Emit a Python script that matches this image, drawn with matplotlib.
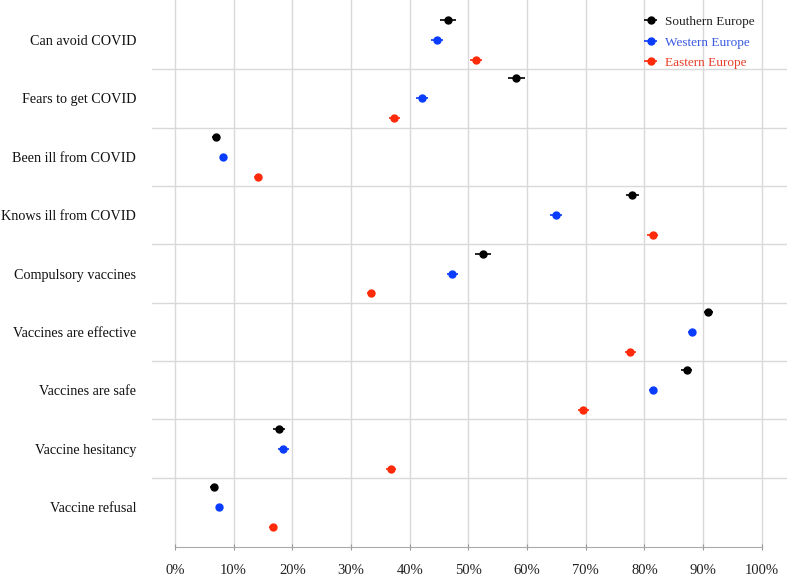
import matplotlib.pyplot as plt
import numpy as np
from matplotlib.ticker import PercentFormatter

categories = [
    "Can avoid COVID",
    "Fears to get COVID",
    "Been ill from COVID",
    "Knows ill from COVID",
    "Compulsory vaccines",
    "Vaccines are effective",
    "Vaccines are safe",
    "Vaccine hesitancy",
    "Vaccine refusal",
]

southern = [0.465, 0.582, 0.070, 0.779, 0.525, 0.909, 0.872, 0.178, 0.066]
southern_err = [0.014, 0.014, 0.007, 0.011, 0.014, 0.008, 0.009, 0.010, 0.006]
western = [0.446, 0.421, 0.082, 0.649, 0.473, 0.881, 0.815, 0.185, 0.075]
western_err = [0.010, 0.010, 0.005, 0.010, 0.010, 0.007, 0.007, 0.009, 0.005]
eastern = [0.513, 0.374, 0.141, 0.814, 0.334, 0.776, 0.696, 0.368, 0.167]
eastern_err = [0.010, 0.010, 0.007, 0.009, 0.007, 0.009, 0.009, 0.009, 0.006]

series = [
    ("Southern Europe", southern, southern_err, "#000000", "#222222"),
    ("Western Europe", western, western_err, "#0a3cff", "#3a5ae0"),
    ("Eastern Europe", eastern, eastern_err, "#ff2a0a", "#e8402a"),
]
offsets = [-0.342, 0.0, 0.342]

plt.rcParams["font.family"] = ["Liberation Serif", "DejaVu Serif"]

fig = plt.figure(figsize=(7.87, 5.76), dpi=100)
ax = fig.add_axes([152 / 787, 1 - 547 / 576, 635 / 787, 547 / 576])

y = np.arange(len(categories))
handles = []
for (name, vals, errs, color, _), off in zip(series, offsets):
    h = ax.errorbar(
        vals, y + off, xerr=errs, fmt="o", color=color, ecolor=color,
        markersize=5, elinewidth=1.2, capsize=0, label=name, zorder=3,
    )
    handles.append(h)

# separators between categories
for i in range(len(categories) - 1):
    ax.axhline(i + 0.5, color="#d9d9d9", linewidth=1, zorder=1)

ax.set_xlim(-0.039, 1.043)
ax.set_ylim(8.685, -0.685)
ax.set_xticks(np.arange(0, 1.01, 0.1))
ax.xaxis.set_major_formatter(PercentFormatter(1.0, decimals=0))
ax.grid(axis="x", color="#d9d9d9", linewidth=1, zorder=1)
ax.set_yticks(y)
ax.set_yticklabels(categories, fontsize=10.2, color="#111111")
ax.tick_params(axis="y", length=0, pad=11.5)
ax.tick_params(axis="x", colors="#999999", labelcolor="#222222",
               labelsize=10.5, length=5, direction="inout", pad=10)

for s in ["top", "right", "left"]:
    ax.spines[s].set_visible(False)
ax.spines["bottom"].set_color("#aaaaaa")
ax.spines["bottom"].set_bounds(0, 1)

leg = ax.legend(
    handles=handles, loc="upper left", bbox_to_anchor=(631 / 787, 1 - 4 / 576),
    bbox_transform=fig.transFigure, frameon=False, fontsize=9.5,
    handlelength=1.2, handletextpad=0.45, labelspacing=0.62,
)
for text, (_, _, _, _, tcolor) in zip(leg.get_texts(), series):
    text.set_color(tcolor)

fig.savefig("out.png", dpi=100)
